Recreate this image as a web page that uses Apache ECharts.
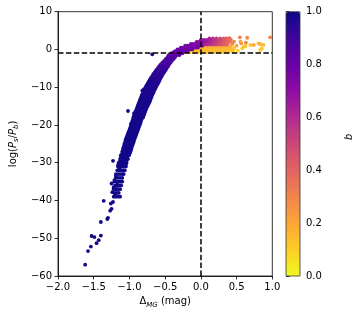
<!DOCTYPE html>
<html><head><meta charset="utf-8">
<script src="https://cdn.jsdelivr.net/npm/echarts@6/dist/echarts.min.js"></script>
<style>html,body{margin:0;padding:0;background:#fff}#c{width:363px;height:318px}</style>
</head><body><div id="c"></div>
<script>
// axis ranges / ticks
const xRange = [-2.0, 1.0], xStep = 0.5;
const yRange = [-60, 10], yStep = 10;
const qRange = [0.0, 1.0], qStep = 0.2;
const refX = 0, refY = -1;
// plasma colormap stops (0 -> 1)
const plasma = ['#0d0887','#41049d','#6a00a8','#8f0da4','#b12a90','#cc4778','#e16462','#f2844b','#fca636','#fcce25','#f0f921'];

// isolated points of the steep tail [x, y]
const tailPoints = [
[-1.62,-57],[-1.58,-53.4],[-1.54,-52.2],[-1.53,-49.4],[-1.49,-49.7],[-1.46,-51.3],[-1.43,-50.5],[-1.40,-49.3],
[-1.40,-45.7],[-1.36,-40.1],[-1.31,-44.9],[-1.30,-44.6],[-1.27,-42.7],[-1.25,-42.2],[-1.26,-40.8],[-1.23,-40.4],
[-1.23,-29.5],[-1.02,-16.3],[-0.98,-19.7],[-0.935,-16.9],[-0.93,-17.6],[-0.84,-13.4],[-0.82,-10.9],[-0.80,-10.6],
[-0.77,-10.3],[-0.73,-9.4],[-0.71,-8.5],[-0.68,-1.3],[-1.24,-37.8],[-1.22,-36.5],[-1.20,-38.6],[-1.25,-35.5],
[-1.18,-37.0],[-1.21,-34.6],[-1.17,-35.8],[-1.19,-33.5],[-1.14,-31.5],[-1.16,-30.6]
];
const tailQ = 0.99;

// dense band rows: [y, q, x values]
const bandRows = [
[-39,0.99,[-1.22,-1.19,-1.16,-1.13]],
[-38,0.99,[-1.21,-1.18,-1.15]],
[-37,0.99,[-1.22,-1.19,-1.16,-1.13]],
[-36,0.99,[-1.20,-1.17,-1.14,-1.115]],
[-35,0.99,[-1.21,-1.18,-1.15,-1.12,-1.10]],
[-34,0.99,[-1.19,-1.16,-1.13,-1.10]],
[-33,0.99,[-1.19,-1.16,-1.13,-1.10,-1.08]],
[-32,0.99,[-1.17,-1.14,-1.11,-1.085,-1.065]],
[-31,0.99,[-1.16,-1.13,-1.10,-1.075,-1.05]],
[-30.5,0.99,[-1.14,-1.11,-1.08,-1.05]],
[-30,0.99,[-1.15,-1.12,-1.09,-1.065,-1.04]],
[-29.5,0.99,[-1.13,-1.10,-1.07,-1.04]],
[-29,0.99,[-1.13,-1.10,-1.075,-1.05,-1.02]],
[-28.5,0.99,[-1.12,-1.09,-1.06,-1.03]],
[-28,0.99,[-1.12,-1.09,-1.06,-1.03,-1.005]],
[-27.5,0.99,[-1.10,-1.07,-1.04,-1.01,-0.995]],
[-27,0.99,[-1.10,-1.07,-1.045,-1.015,-0.985]],
[-26.5,0.99,[-1.09,-1.06,-1.03,-1.0,-0.975]],
[-26,0.99,[-1.085,-1.055,-1.025,-0.995,-0.97]],
[-25.5,0.99,[-1.075,-1.045,-1.015,-0.985,-0.96]],
[-25,0.99,[-1.07,-1.04,-1.01,-0.98,-0.95]],
[-24.5,0.99,[-1.06,-1.03,-1.0,-0.97,-0.94]],
[-24,0.99,[-1.055,-1.025,-0.995,-0.965,-0.935]],
[-23.5,0.99,[-1.045,-1.015,-0.985,-0.955,-0.925]],
[-23,0.99,[-1.035,-1.005,-0.975,-0.945,-0.915]],
[-22.5,0.99,[-1.025,-0.995,-0.965,-0.935,-0.905]],
[-22,0.99,[-1.015,-0.985,-0.955,-0.925,-0.895]],
[-21.5,0.99,[-1.005,-0.975,-0.945,-0.915,-0.885]],
[-21,0.99,[-0.995,-0.965,-0.935,-0.905,-0.875]],
[-20.5,0.99,[-0.985,-0.955,-0.925,-0.895,-0.865]],
[-20,0.99,[-0.975,-0.945,-0.915,-0.885,-0.855]],
[-19.5,0.98,[-0.965,-0.935,-0.905,-0.875,-0.845]],
[-19,0.98,[-0.96,-0.93,-0.90,-0.87,-0.84]],
[-18.5,0.98,[-0.95,-0.92,-0.89,-0.86,-0.83]],
[-18,0.98,[-0.945,-0.915,-0.885,-0.855,-0.825,-0.81]],
[-17.5,0.98,[-0.935,-0.905,-0.875,-0.845,-0.815,-0.80]],
[-17,0.98,[-0.925,-0.895,-0.865,-0.835,-0.805,-0.79]],
[-16.5,0.98,[-0.915,-0.885,-0.855,-0.825,-0.795,-0.78]],
[-16,0.98,[-0.905,-0.875,-0.845,-0.815,-0.785,-0.77]],
[-15.5,0.98,[-0.895,-0.865,-0.835,-0.805,-0.775,-0.76]],
[-15,0.98,[-0.885,-0.855,-0.825,-0.795,-0.765,-0.745]],
[-14.5,0.98,[-0.875,-0.845,-0.815,-0.785,-0.755,-0.735]],
[-14,0.98,[-0.865,-0.835,-0.805,-0.775,-0.745,-0.72]],
[-13.5,0.98,[-0.855,-0.825,-0.795,-0.765,-0.735,-0.71]],
[-13,0.98,[-0.845,-0.815,-0.785,-0.755,-0.725,-0.70]],
[-12.5,0.97,[-0.835,-0.805,-0.775,-0.745,-0.715,-0.69]],
[-12,0.97,[-0.825,-0.795,-0.765,-0.735,-0.705,-0.68]],
[-11.5,0.97,[-0.81,-0.78,-0.75,-0.72,-0.69,-0.665]],
[-11,0.97,[-0.80,-0.77,-0.74,-0.71,-0.68,-0.655]],
[-10.5,0.97,[-0.785,-0.755,-0.725,-0.695,-0.665,-0.64]],
[-10,0.97,[-0.775,-0.745,-0.715,-0.685,-0.655,-0.63]],
[-9.5,0.96,[-0.76,-0.73,-0.70,-0.67,-0.64,-0.615]],
[-9,0.96,[-0.745,-0.715,-0.685,-0.655,-0.625,-0.60]],
[-8.5,0.96,[-0.73,-0.70,-0.67,-0.64,-0.61,-0.585]],
[-8,0.95,[-0.715,-0.685,-0.655,-0.625,-0.595,-0.575]],
[-7.5,0.95,[-0.70,-0.67,-0.64,-0.61,-0.58,-0.56]],
[-7,0.94,[-0.68,-0.65,-0.62,-0.59,-0.565,-0.545]],
[-6.5,0.94,[-0.665,-0.635,-0.605,-0.575,-0.55,-0.53]],
[-6,0.93,[-0.645,-0.615,-0.585,-0.555,-0.53,-0.51]],
[-5.5,0.93,[-0.625,-0.595,-0.565,-0.535,-0.51,-0.495]],
[-5,0.92,[-0.605,-0.575,-0.545,-0.515,-0.495,-0.48]],
[-4.5,0.91,[-0.585,-0.555,-0.525,-0.495,-0.475,-0.46]],
[-4,0.90,[-0.565,-0.535,-0.505,-0.475,-0.445]],
[-3.5,0.89,[-0.54,-0.51,-0.48,-0.45,-0.425]],
[-3,0.88,[-0.515,-0.485,-0.455,-0.425,-0.405]],
[-2.5,0.87,[-0.49,-0.46,-0.43,-0.40,-0.38]],
[-2,0.86,[-0.465,-0.435,-0.405,-0.375,-0.36]]
];

// yellow low-q layer rows: [y, q, x values]
const yellowRows = [
[-0.7,0.13,[-0.22,-0.16,-0.1,-0.04,0.02,0.08,0.14,0.2,0.26,0.32,0.38]],
[-0.3,0.14,[-0.2,-0.14,-0.08,-0.02,0.04,0.1,0.16,0.22,0.28,0.34,0.4,0.45]],
[0.1,0.15,[-0.1,-0.04,0.02,0.08,0.14,0.2,0.26,0.32,0.38,0.44]],
[0.5,0.16,[-0.02,0.04,0.1,0.16,0.22,0.28,0.34,0.4]],
[0.9,0.18,[0.06,0.12,0.18,0.24,0.3,0.36,0.42]]
];

// knee rows: [y, q, x values]
const kneeRows = [
[-1.5,0.84,[-0.45,-0.42,-0.39,-0.36,-0.33,-0.30]],
[-1.0,0.82,[-0.41,-0.38,-0.35,-0.32,-0.29,-0.26]],
[-0.5,0.80,[-0.37,-0.34,-0.31,-0.28,-0.25,-0.22,-0.19]],
[0.0,0.79,[-0.33,-0.30,-0.27,-0.24,-0.21,-0.18,-0.15,-0.12]],
[0.5,0.77,[-0.28,-0.25,-0.22,-0.19,-0.16,-0.13,-0.10,-0.07,-0.04]],
[1.0,0.76,[-0.22,-0.19,-0.16,-0.13,-0.10,-0.07,-0.04,-0.01,0.02]],
[1.5,0.74,[-0.14,-0.11,-0.08,-0.05,-0.02,0.01,0.04,0.07]],
[2.0,0.72,[-0.06,-0.03,0.0,0.03,0.06]]
];

// upper lobe [x, y, q]
const upperPoints = [
[0.12,2.9,0.62],[0.17,2.9,0.58],[0.22,2.9,0.54],[0.27,2.9,0.5],[0.32,2.9,0.45],[0.36,2.9,0.4],
[0.0,2.5,0.7],[0.04,2.5,0.68],[0.08,2.5,0.65],[0.12,2.5,0.62],[0.16,2.5,0.6],[0.2,2.5,0.56],[0.24,2.5,0.52],[0.28,2.5,0.48],[0.32,2.5,0.44],[0.36,2.5,0.4],[0.39,2.5,0.36],
[0.09,2.1,0.66],[0.13,2.1,0.62],[0.17,2.1,0.58],[0.21,2.1,0.55],[0.25,2.1,0.5],[0.29,2.1,0.47],[0.33,2.1,0.43],[0.37,2.1,0.4],[0.41,2.1,0.36],
[0.06,1.7,0.66],[0.1,1.7,0.63],[0.14,1.7,0.6],[0.18,1.7,0.56],[0.22,1.7,0.53],[0.26,1.7,0.5],[0.3,1.7,0.46],[0.34,1.7,0.42],[0.38,1.7,0.38],
[0.05,1.3,0.64],[0.09,1.3,0.6],[0.13,1.3,0.58],[0.17,1.3,0.55],[0.21,1.3,0.52],[0.25,1.3,0.48],[0.29,1.3,0.45],[0.33,1.3,0.42],[0.37,1.3,0.38]
];

// scattered points to the right [x, y, q]
const outerPoints = [
[0.546,3.2,0.3],[0.648,3.1,0.3],[0.565,1.6,0.25],[0.63,1.8,0.3],[0.463,2.1,0.3],[0.50,1.0,0.2],[0.60,0.7,0.15],
[0.74,1.2,0.2],[0.83,1.4,0.2],[0.876,1.2,0.15],[0.97,3.2,0.3],[0.555,2.06,0.2],[0.624,0.92,0.12],[0.693,1.18,0.12],
[0.807,1.63,0.15],[0.83,-0.14,0.1],[0.854,0.31,0.12],[0.579,0.31,0.1],[0.42,2.6,0.35],[0.44,1.5,0.3],[0.47,0.4,0.12],
[0.52,-0.3,0.1],[0.45,-0.5,0.1],[0.40,3.0,0.38]
];

function fromRows(rows){ const out=[]; rows.forEach(r=>r[2].forEach(x=>out.push([x,r[0],r[1]]))); return out; }
const data = [].concat(
  fromRows(bandRows),
  tailPoints.map(p=>[p[0],p[1],tailQ]),
  fromRows(yellowRows),
  fromRows(kneeRows),
  upperPoints,
  outerPoints
);

const FONT = 'DejaVu Sans';
const minus = s => String(s).replace('-', '\u2212');
const axisCommon = {
  axisLine:{show:true,onZero:false,lineStyle:{color:'#000',width:0.8}},
  axisTick:{show:true,inside:false,length:3.5,lineStyle:{color:'#000',width:0.8}},
  splitLine:{show:false},
};

const chart = echarts.init(document.getElementById('c'), null, {renderer:'canvas'});
chart.setOption({
  animation:false,
  backgroundColor:'#fff',
  textStyle:{fontFamily:FONT},
  grid:[
    {left:54.3,top:11.7,width:218,height:264.3,show:true,borderColor:'#000',borderWidth:0.8,backgroundColor:'transparent'},
    {left:286,top:11.7,width:14,height:264.3,show:true,borderColor:'#333',borderWidth:0.8,backgroundColor:'transparent',z:10}
  ],
  xAxis:[
    Object.assign({gridIndex:0,type:'value',min:xRange[0],max:xRange[1],interval:xStep,
      axisLabel:{color:'#000',fontSize:10,fontFamily:FONT,margin:6,formatter:v=>minus(v.toFixed(1))},
      name:'{n|\u0394}{s|MG}{n| (mag)}',nameLocation:'middle',nameGap:15,
      nameTextStyle:{color:'#000',fontFamily:FONT,rich:{
        n:{fontSize:10,color:'#000',fontFamily:FONT,lineHeight:14},
        s:{fontSize:7,color:'#000',fontFamily:FONT,fontStyle:'italic',verticalAlign:'bottom',lineHeight:8}}}
    },axisCommon),
    {gridIndex:1,type:'value',min:0,max:1,show:false}
  ],
  yAxis:[
    Object.assign({gridIndex:0,type:'value',min:yRange[0],max:yRange[1],interval:yStep,
      axisLabel:{color:'#000',fontSize:10,fontFamily:FONT,margin:6,formatter:v=>minus(v)},
      name:'{n|log(}{i|P}{s|s}{n|/}{i|P}{s|b}{n|)}',nameLocation:'middle',nameGap:36,nameRotate:90,
      nameTextStyle:{color:'#000',fontFamily:FONT,rich:{
        n:{fontSize:10,color:'#000',fontFamily:FONT,lineHeight:14},
        i:{fontSize:10,color:'#000',fontFamily:FONT,fontStyle:'italic',lineHeight:14},
        s:{fontSize:7,color:'#000',fontFamily:FONT,fontStyle:'italic',verticalAlign:'bottom',lineHeight:8}}}
    },axisCommon),
    Object.assign({gridIndex:1,type:'value',position:'right',min:qRange[0],max:qRange[1],interval:qStep,
      axisLabel:{color:'#000',fontSize:10,fontFamily:FONT,margin:6,formatter:v=>v.toFixed(1)}
    },axisCommon,{axisLine:{show:false}})
  ],
  graphic:[{type:'text',x:349,y:137,rotation:-Math.PI/2,silent:true,
    style:{text:'q',fill:'#000',font:'italic 10px "DejaVu Sans"',textAlign:'center',textVerticalAlign:'middle'}}],
  visualMap:{type:'continuous',min:qRange[0],max:qRange[1],dimension:2,seriesIndex:0,
    inRange:{color:plasma.slice().reverse()},
    show:true,calculable:false,text:['',''],showLabel:false,orient:'vertical',
    left:286,top:11.7,itemWidth:14,itemHeight:264.3,padding:0,hoverLink:false},
  series:[
    {type:'scatter',xAxisIndex:0,yAxisIndex:0,data:data,symbolSize:3.8,
      itemStyle:{opacity:1},silent:true},
    {type:'scatter',xAxisIndex:0,yAxisIndex:0,data:[],z:20,silent:true,
      markLine:{silent:true,symbol:['none','none'],label:{show:false},z:20,
        lineStyle:{color:'#000',width:1.5,type:[5.5,2.4]},
        emphasis:{disabled:true},
        data:[{xAxis:refX},{yAxis:refY}]}}
  ]
});
</script></body></html>
